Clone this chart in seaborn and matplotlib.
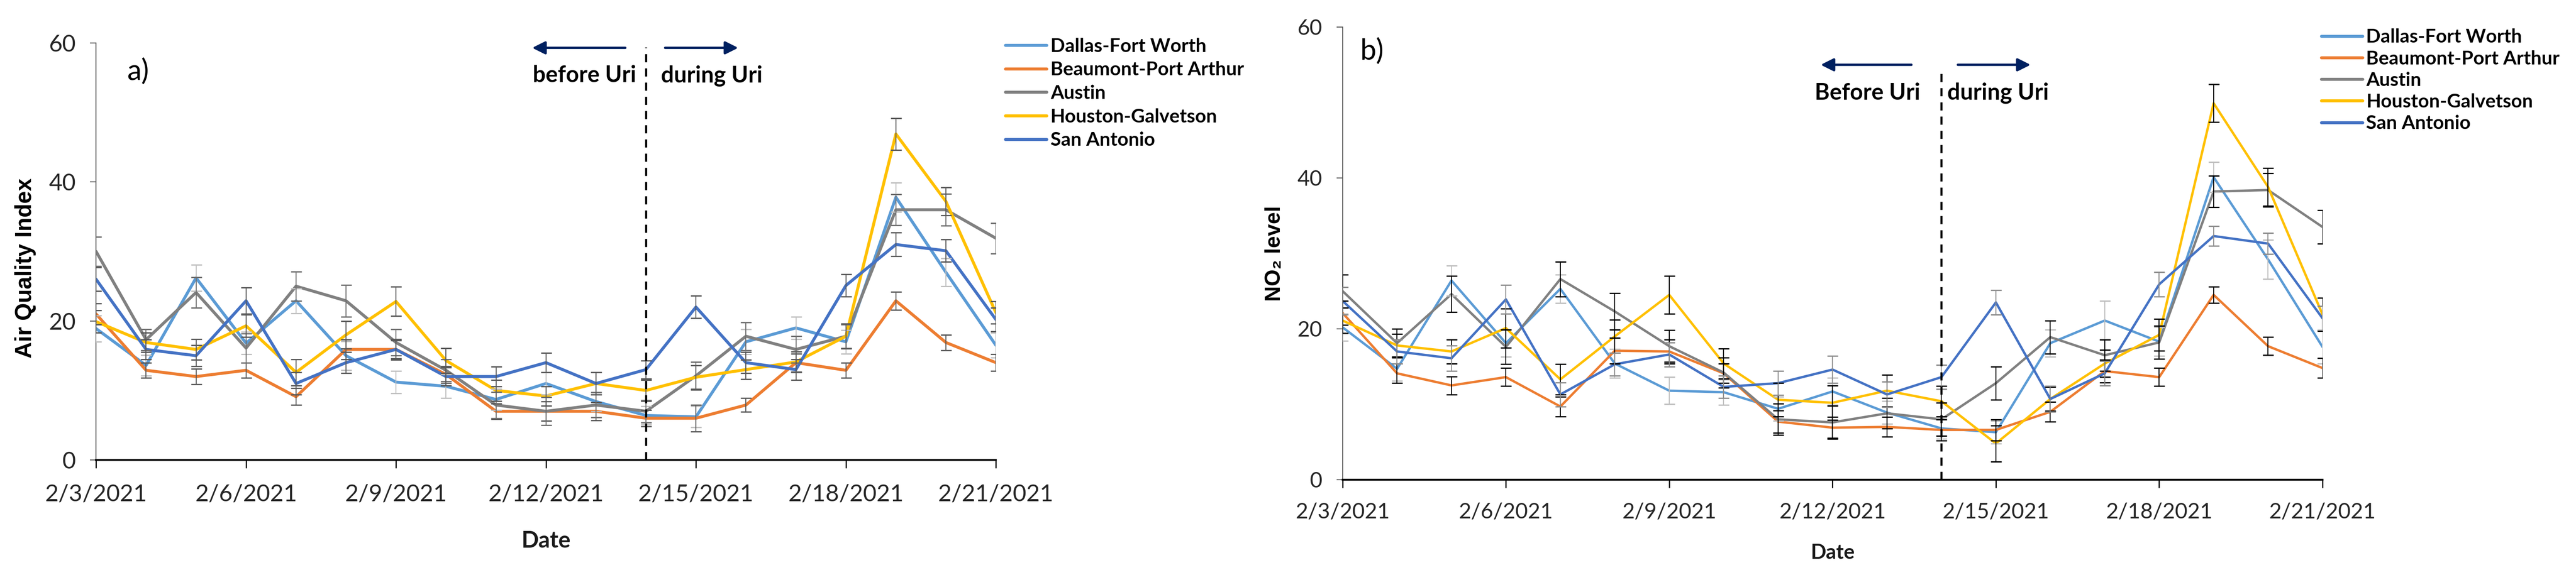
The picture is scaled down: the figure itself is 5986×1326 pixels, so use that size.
import matplotlib
matplotlib.use("Agg")
import matplotlib.pyplot as plt
import matplotlib.dates as mdates
import numpy as np
import pandas as pd
import seaborn as sns

# ---- data -------------------------------------------------------------
lstDates = ["2021-02-03", "2021-02-04", "2021-02-05", "2021-02-06", "2021-02-07",
            "2021-02-08", "2021-02-09", "2021-02-10", "2021-02-11", "2021-02-12",
            "2021-02-13", "2021-02-14", "2021-02-15", "2021-02-16", "2021-02-17",
            "2021-02-18", "2021-02-19", "2021-02-20", "2021-02-21"]
lstRegions = ["Dallas-Fort Worth", "Beaumont-Port Arthur", "Austin",
              "Houston-Galvetson", "San Antonio"]

# a) Air Quality Index
aqi_dfw = [18.9, 13.6, 26.2, 16.8, 22.9, 15.0, 11.2, 10.6, 8.7, 11.0, 8.4, 6.4, 6.2, 17.0, 19.0, 17.0, 37.8, 27.0, 16.5]
aqi_bpa = [21.0, 12.9, 12.0, 12.9, 9.1, 15.9, 15.9, 12.3, 7.0, 7.0, 7.0, 6.0, 6.0, 7.9, 14.0, 12.9, 22.9, 16.9, 14.0]
aqi_aus = [30.0, 17.3, 24.1, 16.1, 25.0, 22.9, 16.9, 12.9, 7.9, 7.0, 7.9, 7.0, 12.1, 17.8, 15.9, 17.8, 36.0, 36.0, 31.9]
aqi_hou = [19.9, 16.9, 15.9, 19.3, 12.6, 18.0, 22.8, 14.3, 10.0, 9.2, 11.0, 10.0, 11.9, 13.0, 14.1, 17.8, 46.9, 37.2, 21.2]
aqi_sat = [26.0, 15.9, 15.0, 22.9, 11.0, 14.0, 15.9, 12.0, 12.0, 14.0, 11.0, 13.0, 22.0, 14.0, 13.0, 25.1, 31.0, 30.1, 20.2]

aqi_err_dfw = [1.9, 1.5, 1.9, 1.6, 1.8, 2.1, 1.6, 1.7, 1.5, 1.6, 1.4, 1.3, 1.5, 1.8, 1.6, 1.7, 2.1, 2.0, 1.8]
aqi_err_bpa = [1.5, 1.1, 1.1, 1.1, 1.2, 1.4, 1.3, 1.2, 1.1, 1.4, 1.3, 1.2, 1.9, 1.0, 1.3, 1.1, 1.3, 1.1, 1.2]
aqi_err_aus = [2.1, 1.5, 2.2, 2.1, 2.1, 2.3, 1.9, 1.6, 1.9, 2.0, 1.8, 1.6, 2.0, 2.0, 1.9, 1.7, 2.2, 2.3, 2.2]
aqi_err_hou = [1.6, 1.4, 1.5, 1.6, 1.9, 2.0, 2.1, 1.8, 1.5, 1.4, 1.6, 1.5, 1.7, 1.4, 1.5, 1.8, 2.3, 2.0, 1.6]
aqi_err_sat = [1.7, 1.4, 1.5, 1.9, 1.6, 1.5, 1.5, 1.3, 1.4, 1.4, 1.6, 1.3, 1.6, 1.5, 1.5, 1.6, 1.7, 1.6, 1.7]

# b) NO2 level
no2_dfw = [20.2, 14.7, 26.4, 18.1, 25.3, 15.4, 11.8, 11.6, 9.4, 11.7, 8.9, 6.8, 6.3, 18.1, 21.1, 18.3, 40.1, 29.2, 17.6]
no2_bpa = [22.1, 14.1, 12.5, 13.6, 9.7, 17.1, 17.0, 14.1, 7.7, 6.9, 7.0, 6.6, 6.6, 9.0, 14.4, 13.6, 24.5, 17.7, 14.8]
no2_aus = [25.0, 18.1, 24.6, 17.6, 26.6, 22.3, 17.7, 14.2, 8.0, 7.6, 8.8, 8.0, 12.8, 18.9, 16.5, 18.2, 38.2, 38.4, 33.5]
no2_hou = [21.1, 17.8, 17.0, 20.1, 13.3, 19.0, 24.5, 15.4, 10.6, 10.2, 11.8, 10.4, 4.8, 10.7, 15.4, 19.2, 49.9, 38.8, 21.9]
no2_sat = [23.7, 17.0, 16.1, 23.9, 11.3, 15.3, 16.6, 12.3, 12.8, 14.6, 11.3, 13.6, 23.5, 10.7, 14.1, 25.9, 32.3, 31.3, 21.4]

no2_err_dfw = [1.8, 1.6, 2.0, 1.8, 1.9, 1.9, 1.8, 1.7, 1.6, 1.8, 1.5, 1.4, 1.5, 1.8, 2.6, 1.9, 2.0, 2.6, 2.2]
no2_err_bpa = [1.6, 1.3, 1.2, 1.2, 1.3, 1.7, 1.6, 1.3, 1.5, 1.4, 1.3, 1.4, 1.4, 1.3, 1.5, 1.2, 1.1, 1.2, 1.3]
no2_err_aus = [2.2, 1.9, 2.4, 2.3, 2.3, 2.4, 2.1, 2.0, 2.1, 2.2, 2.0, 2.2, 2.2, 2.2, 2.1, 2.2, 2.1, 2.2, 2.2]
no2_err_hou = [1.7, 1.5, 1.6, 2.6, 2.0, 2.2, 2.5, 2.0, 2.2, 2.3, 2.1, 2.0, 2.4, 1.6, 1.8, 2.1, 2.5, 2.5, 2.2]
no2_err_sat = [1.8, 1.6, 1.7, 1.9, 1.6, 1.5, 1.6, 1.5, 1.6, 1.8, 1.7, 1.6, 1.6, 1.7, 1.6, 1.6, 1.3, 1.4, 1.6]

lstColors = ["#5B9BD5", "#ED7D31", "#808080", "#FFC000", "#4472C4"]
lstErrColorsA = ["#BFBFBF", "#595959", "#6E6E6E", "#595959", "#595959"]
lstErrColorsB = ["#BFBFBF", "#000000", "#000000", "#000000", "#8C8C8C"]

# ---- style ------------------------------------------------------------
sns.set_theme(style="white")
lstNarrow = ["Liberation Sans Narrow", "Lato", "DejaVu Sans"]
lstArial = ["Liberation Sans", "DejaVu Sans"]
plt.rcParams["font.family"] = lstNarrow

arrDates = pd.to_datetime(lstDates)


def BuildFrame(lstSeries):
	"""Long-form frame for seaborn."""
	lstRows = []
	for sRegion, lstVals in zip(lstRegions, lstSeries):
		for dt, fVal in zip(arrDates, lstVals):
			lstRows.append({"Date": dt, "Value": fVal, "Region": sRegion})
	return pd.DataFrame(lstRows)


def DrawPanel(ax, lstSeries, lstErrs, lstErrColors, fLineWidth, dctCfg):
	dfData = BuildFrame(lstSeries)
	sns.lineplot(data=dfData, x="Date", y="Value", hue="Region", hue_order=lstRegions,
				 palette=lstColors, linewidth=fLineWidth, ax=ax, legend=True, zorder=2)

	for lstVals, lstErr, sErrColor in zip(lstSeries, lstErrs, lstErrColors):
		ax.errorbar(arrDates, lstVals, yerr=lstErr, fmt="none", ecolor=sErrColor,
					elinewidth=1.6, capsize=9, capthick=2.2, zorder=3)

	ax.set_xlim(arrDates[0], arrDates[-1])
	ax.set_ylim(0, 60)
	ax.set_yticks([0, 20, 40, 60])
	lstTickDates = arrDates[::3]
	ax.set_xticks(lstTickDates)
	ax.set_xticklabels([f"{d.month}/{d.day}/{d.year}" for d in lstTickDates])

	for sSide in ["top", "right"]:
		ax.spines[sSide].set_visible(False)
	ax.spines["left"].set_color("#595959")
	ax.spines["left"].set_linewidth(1.6)
	ax.spines["bottom"].set_color("black")
	ax.spines["bottom"].set_linewidth(3.2)

	ax.tick_params(axis="x", which="major", direction="out", length=14, width=2,
				   color="black", labelsize=dctCfg["tick"], pad=dctCfg["xpad"], bottom=True)
	ax.tick_params(axis="y", which="major", direction="out", length=10, width=1.6,
				   color="#595959", labelsize=dctCfg["tick"], pad=dctCfg["ypad"], left=True)
	for lbl in ax.get_xticklabels() + ax.get_yticklabels():
		lbl.set_color("#262626")

	ax.set_xlabel("Date", fontsize=dctCfg["date"], fontweight="bold", color="#1A1A1A")
	ax.xaxis.set_label_coords(0.5, dctCfg["datey"])
	ax.set_ylabel(dctCfg["ylabel"], fontsize=dctCfg["ylab"], fontweight="bold",
				  family=lstArial, color="black")
	ax.yaxis.set_label_coords(dctCfg["ylx"], dctCfg["yly"])

	# storm marker
	fStorm = mdates.date2num(pd.Timestamp("2021-02-14"))
	fDay0 = mdates.date2num(arrDates[0])
	ax.plot([fStorm, fStorm], [0, dctCfg["dashtop"]], color="black", lw=3.4,
			ls=(0, (4, 3)), zorder=4)
	fArrowY = dctCfg["arrowy"]
	ax.annotate("", xy=(fDay0 + dctCfg["lhead"], fArrowY), xytext=(fDay0 + dctCfg["ltail"], fArrowY),
				arrowprops=dict(arrowstyle="-|>", color="#002060", lw=4, mutation_scale=45))
	ax.annotate("", xy=(fDay0 + dctCfg["rhead"], fArrowY), xytext=(fDay0 + dctCfg["rtail"], fArrowY),
				arrowprops=dict(arrowstyle="-|>", color="#002060", lw=4, mutation_scale=45))
	ax.text(fDay0 + dctCfg["ltextx"], dctCfg["texty"], dctCfg["before"], ha="center", va="center",
			fontsize=dctCfg["note"], fontweight="bold", color="black")
	ax.text(fDay0 + dctCfg["rtextx"], dctCfg["texty"], "during Uri", ha="center", va="center",
			fontsize=dctCfg["note"], fontweight="bold", color="black")
	ax.text(fDay0 + dctCfg["panx"], dctCfg["pany"], dctCfg["panel"], ha="center", va="center",
			fontsize=dctCfg["panfs"], color="black")

	# legend
	lstHandles, lstLabels = ax.get_legend_handles_labels()
	oLeg = ax.legend(lstHandles, lstLabels, loc="upper left", bbox_to_anchor=dctCfg["legxy"],
					 bbox_transform=ax.figure.transFigure, frameon=False, fontsize=dctCfg["leg"],
					 handlelength=2.15, handletextpad=0.2, labelspacing=dctCfg["legsp"],
					 borderpad=0, borderaxespad=0)
	for oText in oLeg.get_texts():
		oText.set_fontweight("bold")
		oText.set_color("black")
	for oLine in oLeg.get_lines():
		oLine.set_linewidth(5)


fig = plt.figure(figsize=(59.86, 13.26), dpi=100)
axA = fig.add_axes([0.0373, 0.1931, 0.3493, 0.7315])
axB = fig.add_axes([0.5212, 0.1584, 0.3804, 0.7941])

dctA = {"tick": 39, "xpad": 26, "ypad": 24, "date": 38, "datey": -0.169, "ylabel": "Air Quality Index",
		"ylab": 38, "ylx": -0.0665, "yly": 0.46, "dashtop": 59.4, "arrowy": 59.3,
		"lhead": 8.70, "ltail": 10.61, "rhead": 12.87, "rtail": 11.36, "ltextx": 9.77, "rtextx": 12.32,
		"texty": 55.3, "before": "before Uri", "note": 38, "panx": 0.84, "pany": 55.9, "panel": "a)",
		"panfs": 48, "legxy": (0.3903, 0.934), "leg": 32, "legsp": 0.33}
dctB = {"tick": 36, "xpad": 24, "ypad": 24, "date": 34, "datey": -0.1405, "ylabel": "NO\u2082 level",
		"ylab": 36, "ylx": -0.0593, "yly": 0.5, "dashtop": 54.2, "arrowy": 55.0,
		"lhead": 8.76, "ltail": 10.47, "rhead": 12.66, "rtail": 11.28, "ltextx": 9.64, "rtextx": 12.04,
		"texty": 51.25, "before": "Before Uri", "note": 38, "panx": 0.54, "pany": 56.75, "panel": "b)",
		"panfs": 48, "legxy": (0.9011, 0.950), "leg": 32, "legsp": 0.23}

DrawPanel(axA, [aqi_dfw, aqi_bpa, aqi_aus, aqi_hou, aqi_sat],
		  [aqi_err_dfw, aqi_err_bpa, aqi_err_aus, aqi_err_hou, aqi_err_sat],
		  lstErrColorsA, 5, dctA)
DrawPanel(axB, [no2_dfw, no2_bpa, no2_aus, no2_hou, no2_sat],
		  [no2_err_dfw, no2_err_bpa, no2_err_aus, no2_err_hou, no2_err_sat],
		  lstErrColorsB, 4, dctB)

fig.savefig("out.png", dpi=100, facecolor="white")
plt.close(fig)
